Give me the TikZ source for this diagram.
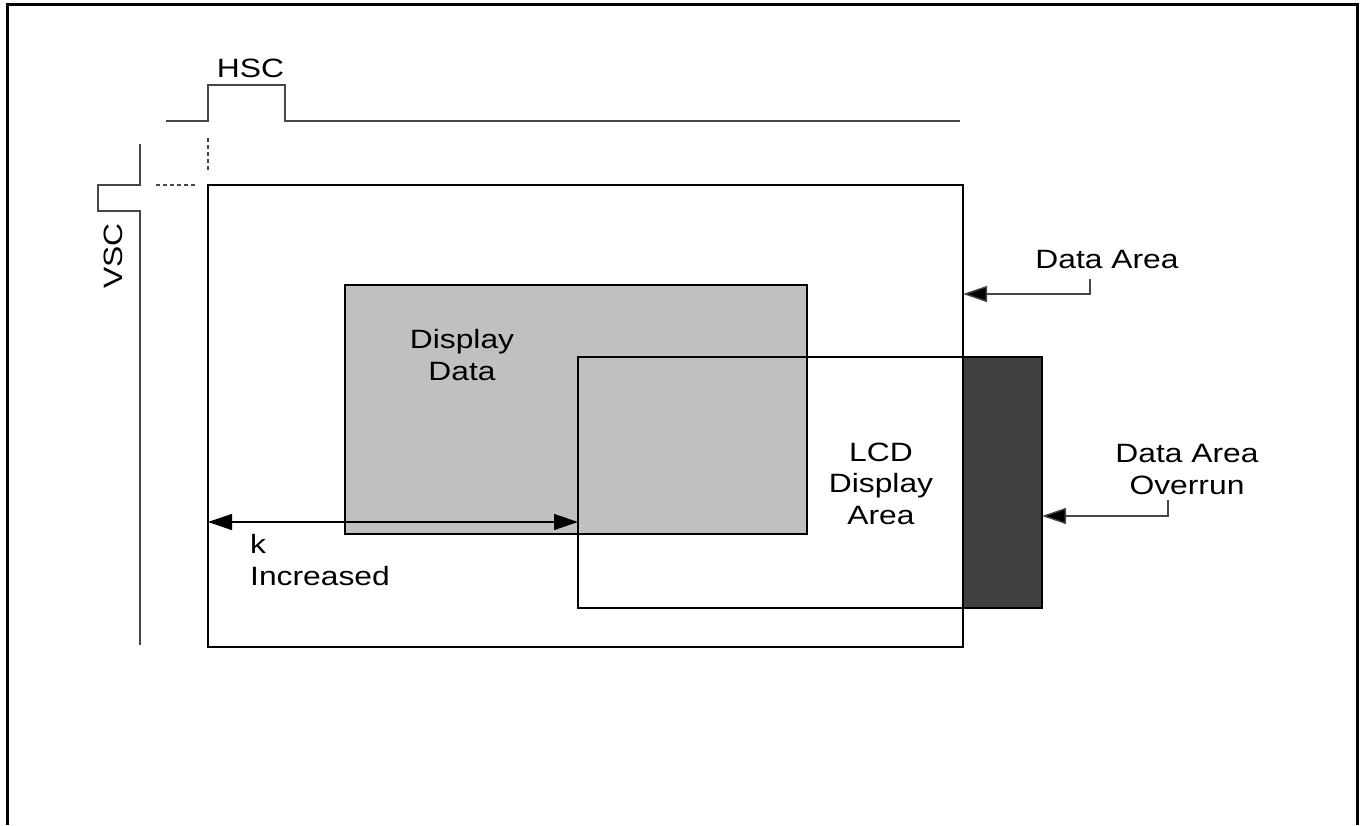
\documentclass[tikz,border=0pt]{standalone}
\usepackage{fontspec}
\setmainfont{Liberation Sans}[FakeStretch=1.2]
\usetikzlibrary{arrows.meta}
\definecolor{dispgray}{RGB}{192,192,192}
\definecolor{overrun}{RGB}{64,64,64}
\definecolor{wire}{RGB}{70,70,70}
\begin{document}
\begin{tikzpicture}[x=1pt,y=-1pt,
  box/.style={draw=black,line width=2pt,inner sep=0pt,outer sep=0pt},
  lbl/.style={font=\fontsize{26.5}{31.5}\selectfont,align=center,inner sep=0pt},
  wave/.style={draw=wire,line width=1.4pt},
  guide/.style={draw=wire,line width=1.4pt,dash pattern=on 4pt off 3pt},
  leader/.style={draw=wire,line width=1.4pt,-{Triangle[length=24pt,width=16pt,fill=black]}},
  span/.style={draw=black,line width=1.4pt,{Triangle[length=24pt,width=16pt]}-{Triangle[length=24pt,width=16pt]}}]
\useasboundingbox (0,0) rectangle (1360,825);

% outer frame, open at the bottom
\draw[line width=3pt] (7,825) -- (7,4) -- (1357,4) -- (1357,825);

% sync waveforms
\draw[wave] (166,121) -- (208,121) -- (208,85) -- (285,85) -- (285,121) -- (960,121);
\draw[wave] (140,144) -- (140,185) -- (98,185) -- (98,211) -- (140,211) -- (140,645);
\draw[guide] (208,138) -- (208,173);
\draw[guide] (156,185) -- (197,185);
\node[lbl,anchor=base] (hsc) at (250.5,77) {HSC};
\node[lbl,rotate=90] (vsc) at (113,256) {VSC};

% memory areas
\node[box,minimum width=755pt,minimum height=462pt] (dataarea) at (585.5,416) {};
\node[box,fill=dispgray,minimum width=462pt,minimum height=249pt] (display) at (576,409.5) {};
\node[box,minimum width=385pt,minimum height=251pt] (lcd) at (770.5,482.5) {};
\node[box,fill=overrun,minimum width=79pt,minimum height=251pt] (over) at (1002.5,482.5) {};

% multi-line labels: anchor=base sits on the last line
\node[lbl,anchor=base] (disptxt) at (462,380) {Display\\Data};
\node[lbl,anchor=base] (lcdtxt) at (881,524) {LCD\\Display\\Area};

% horizontal offset k
\coordinate (krow) at (0,522);
\draw[span] (dataarea.west |- krow) -- (lcd.west |- krow);
\node[lbl,anchor=base west,align=left] (ktxt) at (250,585) {k\\Increased};

% callouts
\node[lbl,anchor=base] (datxt) at (1107,268) {Data Area};
\coordinate (dalead) at (1090,279);
\draw[leader] (dalead) |- (dataarea.east |- 0,294);

\node[lbl,anchor=base] (ovtxt) at (1187,494) {Data Area\\Overrun};
\coordinate (ovlead) at (1168,500);
\draw[leader] (ovlead) |- (over.east |- 0,516);
\end{tikzpicture}
\end{document}
